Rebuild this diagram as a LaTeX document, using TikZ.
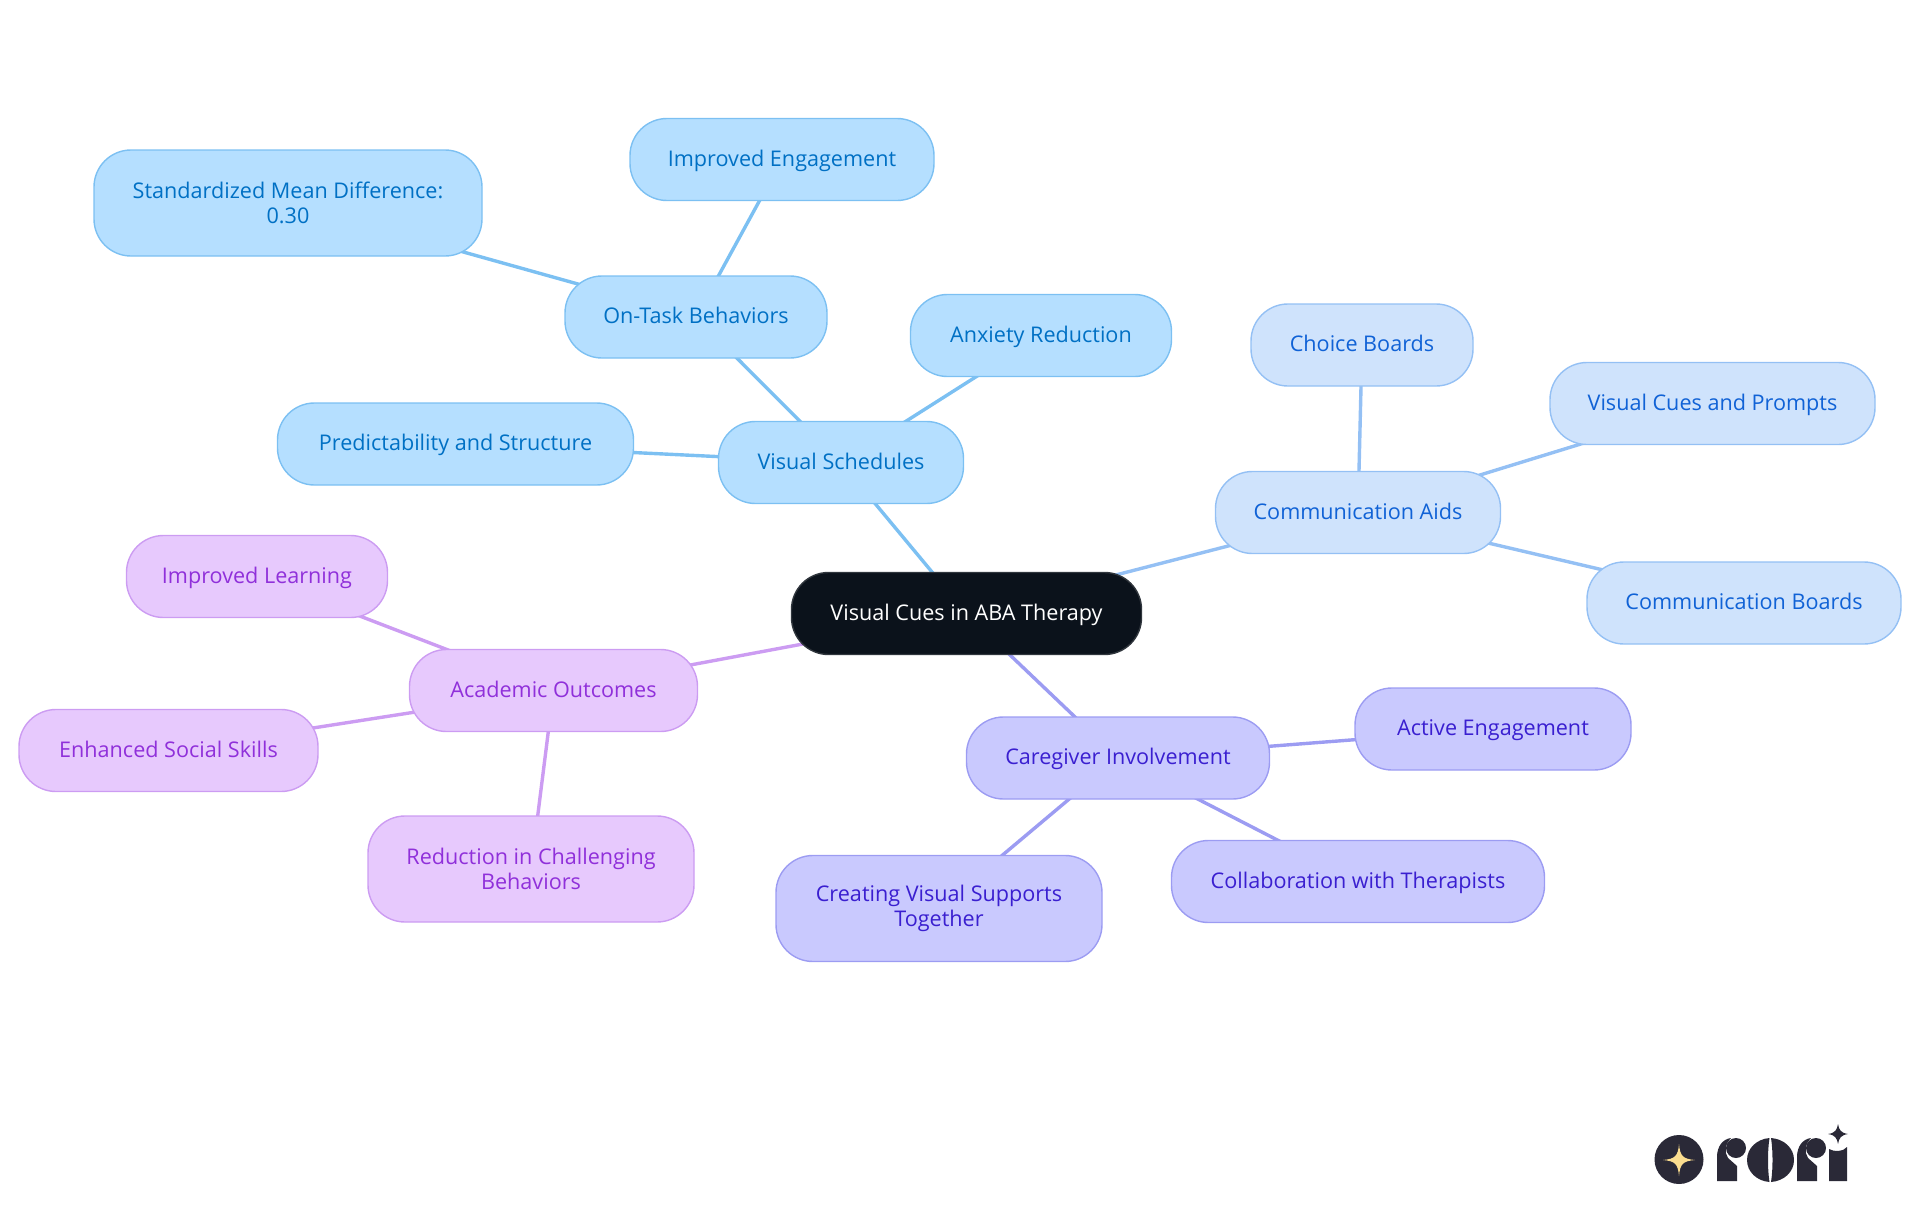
\documentclass[tikz,border=0pt]{standalone}
\usepackage{fontspec}
\setmainfont{Open Sans}
\usetikzlibrary{backgrounds}
\definecolor{rootc}{HTML}{0B121B}
\definecolor{schedf}{HTML}{B5DFFF}
\definecolor{schedl}{HTML}{7CC0F2}
\definecolor{schedt}{HTML}{0070C4}
\definecolor{aidsf}{HTML}{CFE3FC}
\definecolor{aidsl}{HTML}{94C0F4}
\definecolor{aidst}{HTML}{1062D6}
\definecolor{caref}{HTML}{C9C9FE}
\definecolor{carel}{HTML}{9C9CF2}
\definecolor{caret}{HTML}{3A1FD0}
\definecolor{acadf}{HTML}{E7C9FD}
\definecolor{acadl}{HTML}{CC9CF2}
\definecolor{acadt}{HTML}{9030DA}
\definecolor{logoc}{HTML}{2A2937}
\definecolor{logos}{HTML}{FBDD8F}
\begin{document}
\begin{tikzpicture}[x=1pt, y=-1pt,
	n/.style={rounded corners=37pt, line width=1.4pt, inner sep=0pt, align=center, minimum height=82pt, text height=18pt, text depth=4.5pt, font=\fontsize{21.6}{24.5}\selectfont},
	tall/.style={minimum height=106pt, text height=, text depth=},
	root/.style={n, fill=rootc, draw=rootc!85!white, text=white},
	sched/.style={n, fill=schedf, draw=schedl, text=schedt},
	aids/.style={n, fill=aidsf, draw=aidsl, text=aidst},
	care/.style={n, fill=caref, draw=carel, text=caret},
	acad/.style={n, fill=acadf, draw=acadl, text=acadt},
	e/.style={line width=3.4pt}]
	\useasboundingbox (0,0) rectangle (1920,1215);
	\node[root, minimum width=350pt] (cues) at (966.5,613.5) {Visual Cues in ABA Therapy};

	\node[sched, minimum width=245pt] (schedules) at (841,462.5) {Visual Schedules};
	\node[sched, minimum width=262pt] (ontask) at (696,317) {On-Task Behaviors};
	\node[sched, minimum width=304pt] (engage) at (782,159.5) {Improved Engagement};
	\node[sched, tall, minimum width=388pt] (smd) at (288,203) {Standardized Mean Difference:\\0.30};
	\node[sched, minimum width=261pt] (anxiety) at (1041,335.5) {Anxiety Reduction};
	\node[sched, minimum width=356pt] (predict) at (455.5,444) {Predictability and Structure};

	\node[aids, minimum width=285pt] (comm) at (1358,512.5) {Communication Aids};
	\node[aids, minimum width=222pt] (choice) at (1362,345) {Choice Boards};
	\node[aids, minimum width=325pt] (prompts) at (1712.5,403.5) {Visual Cues and Prompts};
	\node[aids, minimum width=314pt] (boards) at (1744,603) {Communication Boards};

	\node[care, minimum width=303pt] (caregiver) at (1118,758) {Caregiver Involvement};
	\node[care, minimum width=276pt] (active) at (1493,729) {Active Engagement};
	\node[care, minimum width=373pt] (collab) at (1358,881.5) {Collaboration with Therapists};
	\node[care, tall, minimum width=326pt] (supports) at (939,908.5) {Creating Visual Supports\\Together};

	\node[acad, minimum width=288pt] (academic) at (553.5,690.5) {Academic Outcomes};
	\node[acad, minimum width=261pt] (learning) at (257,576.5) {Improved Learning};
	\node[acad, minimum width=299pt] (social) at (168.5,750.5) {Enhanced Social Skills};
	\node[acad, tall, minimum width=326pt] (reduce) at (531,869) {Reduction in Challenging\\Behaviors};

	\begin{scope}[on background layer]
		\draw[e, schedl] (cues.center) -- (schedules.center);
		\draw[e, schedl] (schedules.center) -- (ontask.center);
		\draw[e, schedl] (ontask.center) -- (engage.center);
		\draw[e, schedl] (ontask.center) -- (smd.center);
		\draw[e, schedl] (schedules.center) -- (anxiety.center);
		\draw[e, schedl] (schedules.center) -- (predict.center);
		\draw[e, aidsl] (cues.center) -- (comm.center);
		\draw[e, aidsl] (comm.center) -- (choice.center);
		\draw[e, aidsl] (comm.center) -- (prompts.center);
		\draw[e, aidsl] (comm.center) -- (boards.center);
		\draw[e, carel] (cues.center) -- (caregiver.center);
		\draw[e, carel] (caregiver.center) -- (active.center);
		\draw[e, carel] (caregiver.center) -- (collab.center);
		\draw[e, carel] (caregiver.center) -- (supports.center);
		\draw[e, acadl] (cues.center) -- (academic.center);
		\draw[e, acadl] (academic.center) -- (learning.center);
		\draw[e, acadl] (academic.center) -- (social.center);
		\draw[e, acadl] (academic.center) -- (reduce.center);
	\end{scope}

	\fill[logoc] (1679,1159.5) circle (24.5);
	\fill[logos] (1679,1144) .. controls (1680,1156) and (1683,1159) .. (1695,1160) .. controls (1683,1161) and (1680,1164) .. (1679,1176) .. controls (1678,1164) and (1675,1161) .. (1663,1160) .. controls (1675,1159) and (1678,1156) .. (1679,1144) -- cycle;
	\fill[logoc] (1717,1181) -- (1717,1157) .. controls (1717,1146) and (1723,1139) .. (1731,1138) .. controls (1725,1144) and (1724,1152) .. (1728,1158) -- (1737,1166) -- (1737,1181) -- cycle;
	\fill[logoc] (1736,1148) circle (10);
	\fill[logoc] (1769.5,1138) .. controls (1767.5,1150) and (1767.5,1170) .. (1769.5,1182) .. controls (1757,1181) and (1747,1172) .. (1747,1160) .. controls (1747,1148) and (1757,1139) .. (1769.5,1138) -- cycle;
	\fill[logoc] (1771,1138) .. controls (1773,1150) and (1773,1170) .. (1771,1182) .. controls (1784,1181) and (1794,1172) .. (1794,1160) .. controls (1794,1148) and (1784,1139) .. (1771,1138) -- cycle;
	\fill[logoc] (1797,1181) -- (1797,1157) .. controls (1797,1146) and (1803,1139) .. (1811,1138) .. controls (1805,1144) and (1804,1152) .. (1808,1158) -- (1817,1166) -- (1817,1181) -- cycle;
	\fill[logoc] (1816,1148) circle (10);
	\fill[logoc] (1829,1181) -- (1829,1149) .. controls (1834,1152) and (1843,1152) .. (1847,1147) -- (1847,1181) -- cycle;
	\fill[logoc] (1838,1124) .. controls (1839,1130) and (1841,1133) .. (1848,1134) .. controls (1841,1135) and (1839,1138) .. (1838,1144) .. controls (1837,1138) and (1835,1135) .. (1828,1134) .. controls (1835,1133) and (1837,1130) .. (1838,1124) -- cycle;
\end{tikzpicture}
\end{document}
